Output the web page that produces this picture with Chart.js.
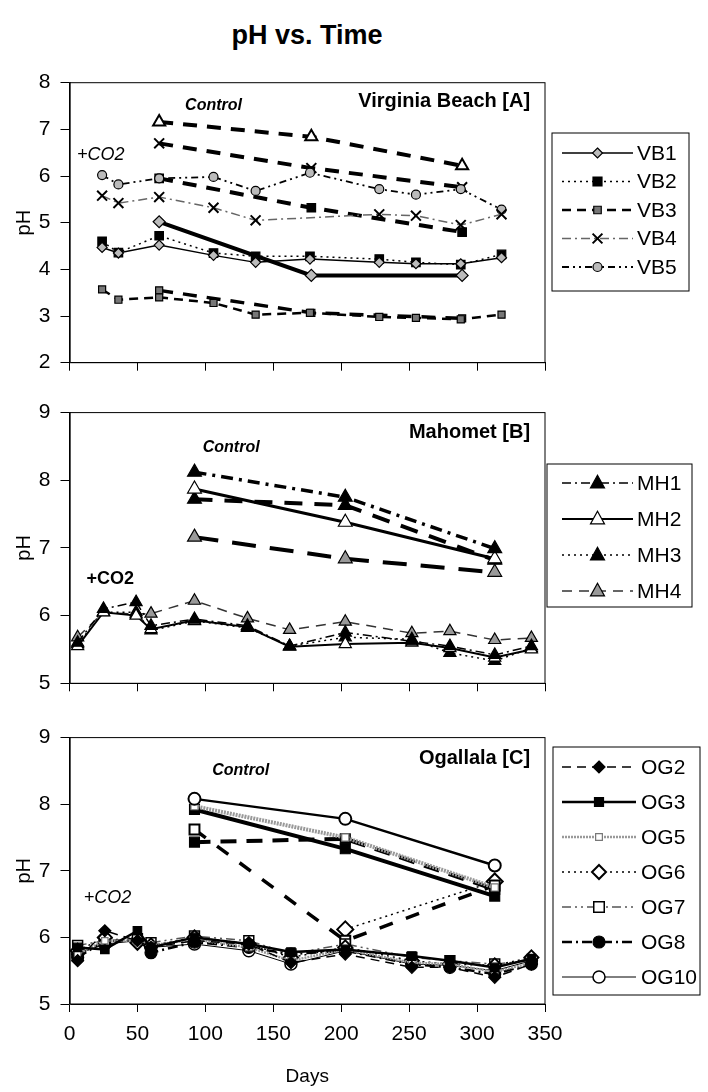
<!DOCTYPE html>
<html>
<head>
<meta charset="utf-8">
<script src="https://cdn.jsdelivr.net/npm/chart.js"></script>
<style>
  body { margin: 0; background: #fff; }
  #wrap { position: relative; width: 708px; height: 1092px; font-family: "Liberation Sans", Arial, sans-serif; }
  #titulo { position: absolute; left: 0; top: 20px; width: 614px; text-align: center; font-weight: bold; font-size: 27px; }
  canvas { position: absolute; left: 0; }
</style>
</head>
<body>
<div id="wrap">
  <div id="titulo">pH vs. Time</div>
  <canvas id="painelA" width="708" height="330" style="top:60px"></canvas>
  <canvas id="painelB" width="708" height="330" style="top:390px"></canvas>
  <canvas id="painelC" width="708" height="377" style="top:715px"></canvas>
</div>
<script>
// VIRGINIA BEACH [A]
const vbDias = [24, 36, 66, 106, 137, 177, 228, 255, 288, 318];
const vb1 = [4.47, 4.35, 4.52, 4.30, 4.15, 4.22, 4.15, 4.12, 4.12, 4.25];
const vb2 = [4.60, 4.36, 4.72, 4.35, 4.28, 4.28, 4.22, 4.15, 4.10, 4.32];
const vb3 = [3.57, 3.35, 3.40, 3.28, 3.03, 3.07, 2.98, 2.96, 2.93, 3.03];
const vb4 = [5.58, 5.42, 5.55, 5.32, 5.05, null, 5.18, 5.15, 4.95, 5.18];
const vb5 = [6.02, 5.82, 5.95, 5.98, 5.68, 6.07, 5.72, 5.60, 5.72, 5.28];
// controles de A
const vbDiasCtl = [66, 178, 289];
const vbCtlTri = [7.16, 6.84, 6.22];
const vbCtlX = [6.70, 6.17, 5.76];
const vbCtlQuad = [5.95, 5.32, 4.80];
const vbCtlLos = [5.02, 3.87, 3.87];
const vbCtlMais = [3.55, 3.07, 2.95];

// MAHOMET [B]
const mhDias = [6, 25, 49, 60, 92, 131, 162, 203, 252, 280, 313, 340];
const mh1 = [5.60, 6.10, 6.20, 5.85, 5.95, 5.85, 5.55, 5.75, 5.62, 5.55, 5.42, 5.55];
const mh2 = [5.55, 6.05, 6.00, 5.80, 5.93, 5.83, 5.54, 5.58, 5.60, 5.52, 5.38, 5.50];
const mh3 = [5.58, 6.05, 6.05, 5.78, 5.92, 5.82, 5.55, 5.68, 5.65, 5.45, 5.33, 5.52];
const mh4 = [5.68, 6.05, 6.02, 6.03, 6.22, 5.96, 5.79, 5.91, 5.74, 5.77, 5.64, 5.67];
const mhDiasCtl = [92, 203, 313];
const mh1Ctl = [8.12, 7.75, 6.99];
const mh2Ctl = [7.87, 7.38, 6.84];
const mh3Ctl = [7.72, 7.63, 6.82];
const mh4Ctl = [7.16, 6.84, 6.64];

// OGALLALA [C]
const ogDias = [6, 26, 50, 60, 92, 132, 163, 203, 252, 280, 313, 340];
const og2 = [5.65, 6.10, 5.95, 5.85, 5.95, 5.90, 5.62, 5.75, 5.55, 5.55, 5.40, 5.60];
const og3 = [5.85, 5.82, 6.10, 5.85, 6.00, 5.90, 5.78, 5.82, 5.72, 5.65, 5.55, 5.68];
const og5 = [5.75, 5.95, 5.95, 5.88, 5.97, 5.85, 5.65, 5.82, 5.62, 5.60, 5.48, 5.62];
const og6 = [5.80, 6.00, 5.92, 5.88, 6.00, 5.90, 5.70, 5.85, 5.65, 5.60, 5.58, 5.70];
const og7 = [5.88, 5.95, 5.98, 5.92, 6.02, 5.95, 5.75, 5.90, 5.70, 5.65, 5.60, 5.65];
const og8 = [5.70, 5.95, 5.95, 5.77, 5.93, 5.85, 5.75, 5.80, 5.60, 5.55, 5.45, 5.60];
const og10 = [5.75, 5.90, 5.95, 5.85, 5.90, 5.80, 5.60, 5.80, 5.60, 5.58, 5.50, 5.65];
const ogDiasCtl = [92, 203, 313];
const og10Ctl = [8.08, 7.78, 7.08];
const og5Ctl = [7.97, 7.50, 6.75];
const og3Ctl = [7.92, 7.33, 6.62];
const og8Ctl = [7.43, 7.48, 6.72];
const og7Ctl = [7.62, 5.95, 6.78];
const og6Ctl = [null, 6.12, 6.84];

const diasTicks = [0, 50, 100, 150, 200, 250, 300, 350];
const FONTE = '"Liberation Sans", Arial, sans-serif';

// junta dias e valores em pontos, pulando os vazios
const pontos = (dias, valores) => dias.map((d, i) => ({x: d, y: valores[i]})).filter(p => p.y !== null);

// cria um dataset com o estilo pedido
function serie(label, dias, valores, estilo, legenda) {
  return Object.assign({
    label: label,
    data: pontos(dias, valores),
    showLine: true,
    borderColor: '#000',
    backgroundColor: '#000',
    borderWidth: 1.5,
    borderDash: [],
    pointStyle: 'circle',
    pointRadius: 5,
    pointBackgroundColor: '#000',
    pointBorderColor: '#000',
    pointBorderWidth: 1.2,
    inLegend: legenda
  }, estilo);
}

// desenha um marcador simples na legenda
function marcador(ctx, ds, x, y) {
  const r = ds.pointRadius;
  ctx.save();
  ctx.setLineDash([]);
  ctx.fillStyle = ds.pointBackgroundColor;
  ctx.strokeStyle = ds.pointBorderColor;
  ctx.lineWidth = ds.pointBorderWidth;
  ctx.beginPath();
  switch (ds.pointStyle) {
    case 'rect': ctx.rect(x - r * 0.75, y - r * 0.75, r * 1.5, r * 1.5); break;
    case 'rectRot':
      ctx.moveTo(x, y - r); ctx.lineTo(x + r, y); ctx.lineTo(x, y + r); ctx.lineTo(x - r, y); ctx.closePath(); break;
    case 'triangle':
      ctx.moveTo(x, y - r * 1.1); ctx.lineTo(x + r, y + r * 0.7); ctx.lineTo(x - r, y + r * 0.7); ctx.closePath(); break;
    case 'crossRot':
      ctx.moveTo(x - r * 0.7, y - r * 0.7); ctx.lineTo(x + r * 0.7, y + r * 0.7);
      ctx.moveTo(x + r * 0.7, y - r * 0.7); ctx.lineTo(x - r * 0.7, y + r * 0.7);
      ctx.stroke(); ctx.restore(); return;
    default: ctx.arc(x, y, r, 0, Math.PI * 2);
  }
  ctx.fill();
  ctx.stroke();
  ctx.restore();
}

const decoracao = {
  id: 'deco',
  afterDraw(chart, args, opts) {
    const ctx = chart.ctx;
    const a = chart.chartArea;
    const xs = chart.scales.x, ys = chart.scales.y;
    ctx.save();
    ctx.strokeStyle = '#000';
    ctx.lineWidth = 1;
    ctx.strokeRect(a.left, a.top, a.width, a.height);
    // textos dentro do grafico
    ctx.fillStyle = '#000';
    ctx.textBaseline = 'middle';
    opts.notas.forEach(n => {
      ctx.font = n.fonte;
      ctx.textAlign = n.alinha;
      ctx.fillText(n.texto, xs.getPixelForValue(n.dia), ys.getPixelForValue(n.ph));
    });
    // legenda
    const L = opts.caixa;
    ctx.fillStyle = '#fff';
    ctx.fillRect(L.x, L.y, L.w, L.h);
    ctx.strokeStyle = '#000';
    ctx.lineWidth = 1;
    ctx.strokeRect(L.x, L.y, L.w, L.h);
    chart.data.datasets.filter(d => d.inLegend).forEach((d, i) => {
      const y = L.y + L.primeira + i * L.passo;
      ctx.save();
      ctx.strokeStyle = d.borderColor;
      ctx.lineWidth = d.borderWidth;
      ctx.setLineDash(d.borderDash);
      ctx.beginPath();
      ctx.moveTo(L.linha0, y);
      ctx.lineTo(L.linha1, y);
      ctx.stroke();
      ctx.restore();
      marcador(ctx, d, (L.linha0 + L.linha1) / 2, y);
      ctx.fillStyle = '#000';
      ctx.font = '21px ' + FONTE;
      ctx.textAlign = 'left';
      ctx.fillText(d.label, L.texto, y + 1);
    });
    ctx.restore();
  }
};

function desenharPainel(id, datasets, yMin, yMax, alturaX, topo, mostrarDias, notas, caixa) {
  return new Chart(document.getElementById(id), {
    type: 'scatter',
    data: { datasets: datasets },
    plugins: [decoracao],
    options: {
      responsive: false,
      animation: false,
      layout: { padding: { left: 12, right: 163, top: topo, bottom: 0 } },
      plugins: {
        legend: { display: false },
        tooltip: { enabled: false },
        deco: { notas: notas, caixa: caixa }
      },
      scales: {
        x: {
          type: 'linear', min: 0, max: 350,
          afterBuildTicks: s => { s.ticks = diasTicks.map(v => ({value: v})); },
          afterFit: s => { s.height = alturaX; },
          grid: { drawOnChartArea: false, drawTicks: true, tickLength: 8, color: '#000' },
          border: { display: true, color: '#000', width: 1 },
          ticks: { display: mostrarDias, color: '#000', padding: 10, font: { family: FONTE, size: 21 }, maxRotation: 0 },
          title: { display: mostrarDias, text: 'Days', color: '#000', font: { family: FONTE, size: 19 }, padding: { top: 4, bottom: 4 } }
        },
        y: {
          min: yMin, max: yMax,
          ticks: { stepSize: 1, color: '#000', padding: 10, font: { family: FONTE, size: 21 } },
          afterFit: s => { s.width = 57.5; },
          grid: { drawOnChartArea: false, drawTicks: true, tickLength: 9, color: '#000' },
          border: { display: true, color: '#555', width: 2 },
          title: { display: true, text: 'pH', color: '#000', font: { family: FONTE, size: 20 }, padding: 0 }
        }
      }
    }
  });
}

const italico = 'italic bold 16px ' + FONTE;
const italicoCO2 = 'italic 18px ' + FONTE;
const negrito = 'bold 20px ' + FONTE;

// PAINEL A
const grossoTracejado = [14, 10];
desenharPainel('painelA', [
  serie('VB1', vbDias, vb1, { pointStyle: 'rectRot', pointRadius: 5, pointBackgroundColor: '#bbb' }, true),
  serie('VB2', vbDias, vb2, { borderDash: [2, 4], pointStyle: 'rect', pointRadius: 6 }, true),
  serie('VB3', vbDias, vb3, { borderWidth: 2.5, borderDash: [9, 6], pointStyle: 'rect', pointRadius: 5, pointBackgroundColor: '#777' }, true),
  serie('VB4', vbDias, vb4, { borderColor: '#666', borderDash: [9, 4, 2, 4], pointStyle: 'crossRot', pointRadius: 7, pointBorderColor: '#000', pointBorderWidth: 2 }, true),
  serie('VB5', vbDias, vb5, { borderWidth: 1.8, borderDash: [7, 4, 2, 4, 2, 4], pointStyle: 'circle', pointRadius: 4.5, pointBackgroundColor: '#bbb' }, true),
  serie('VB ctl 1', vbDiasCtl, vbCtlTri, { borderWidth: 4, borderDash: grossoTracejado, pointStyle: 'triangle', pointRadius: 7, pointBackgroundColor: '#fff', pointBorderWidth: 2 }, false),
  serie('VB ctl 2', vbDiasCtl, vbCtlX, { borderWidth: 4, borderDash: grossoTracejado, pointStyle: 'crossRot', pointRadius: 7, pointBorderWidth: 2 }, false),
  serie('VB ctl 3', vbDiasCtl, vbCtlQuad, { borderWidth: 4, borderDash: grossoTracejado, pointStyle: 'rect', pointRadius: 6 }, false),
  serie('VB ctl 4', vbDiasCtl, vbCtlLos, { borderWidth: 4, pointStyle: 'rectRot', pointRadius: 6, pointBackgroundColor: '#bbb' }, false),
  serie('VB ctl 5', vbDiasCtl, vbCtlMais, { borderWidth: 3.5, borderDash: grossoTracejado, pointStyle: 'rect', pointRadius: 5, pointBackgroundColor: '#777' }, false)
], 2, 8, 27.3, 22.7, false, [
  { texto: 'Control', dia: 106, ph: 7.52, fonte: italico, alinha: 'center' },
  { texto: '+CO2', dia: 23, ph: 6.45, fonte: italicoCO2, alinha: 'center' },
  { texto: 'Virginia Beach [A]', dia: 339, ph: 7.59, fonte: negrito, alinha: 'right' }
], { x: 552, y: 73, w: 137, h: 158, primeira: 20, passo: 28.5, linha0: 562, linha1: 633, texto: 637 });

// PAINEL B
desenharPainel('painelB', [
  serie('MH1', mhDias, mh1, { borderDash: [9, 4, 2, 4], pointStyle: 'triangle', pointRadius: 7 }, true),
  serie('MH2', mhDias, mh2, { borderWidth: 2, pointStyle: 'triangle', pointRadius: 7, pointBackgroundColor: '#fff' }, true),
  serie('MH3', mhDias, mh3, { borderDash: [2, 4], pointStyle: 'triangle', pointRadius: 7 }, true),
  serie('MH4', mhDias, mh4, { borderColor: '#333', borderDash: [10, 7], pointStyle: 'triangle', pointRadius: 7, pointBackgroundColor: '#999' }, true),
  serie('MH1 ctl', mhDiasCtl, mh1Ctl, { borderWidth: 3.5, borderDash: [12, 6, 3, 6], pointStyle: 'triangle', pointRadius: 8 }, false),
  serie('MH2 ctl', mhDiasCtl, mh2Ctl, { borderWidth: 3, pointStyle: 'triangle', pointRadius: 8, pointBackgroundColor: '#fff' }, false),
  serie('MH3 ctl', mhDiasCtl, mh3Ctl, { borderWidth: 4, borderDash: [18, 12], pointStyle: 'triangle', pointRadius: 8 }, false),
  serie('MH4 ctl', mhDiasCtl, mh4Ctl, { borderWidth: 4, borderDash: [24, 14], pointStyle: 'triangle', pointRadius: 8, pointBackgroundColor: '#999' }, false)
], 5, 9, 36.7, 21.7, false, [
  { texto: 'Control', dia: 119, ph: 8.48, fonte: italico, alinha: 'center' },
  { texto: '+CO2', dia: 30, ph: 6.54, fonte: 'bold 18px ' + FONTE, alinha: 'center' },
  { texto: 'Mahomet [B]', dia: 339, ph: 8.71, fonte: negrito, alinha: 'right' }
], { x: 547, y: 74, w: 145, h: 143, primeira: 19, passo: 36, linha0: 562, linha1: 633, texto: 637 });

// PAINEL C
desenharPainel('painelC', [
  serie('OG2', ogDias, og2, { borderDash: [9, 6], pointStyle: 'rectRot', pointRadius: 6 }, true),
  serie('OG3', ogDias, og3, { borderWidth: 2.5, pointStyle: 'rect', pointRadius: 6 }, true),
  serie('OG5', ogDias, og5, { borderColor: '#999', borderWidth: 2.5, borderDash: [2, 1], pointStyle: 'rect', pointRadius: 4.5, pointBackgroundColor: '#fff', pointBorderColor: '#777' }, true),
  serie('OG6', ogDias, og6, { borderDash: [2, 4], pointStyle: 'rectRot', pointRadius: 7, pointBackgroundColor: '#fff', pointBorderWidth: 2 }, true),
  serie('OG7', ogDias, og7, { borderColor: '#555', borderDash: [9, 4, 2, 4, 2, 4], pointStyle: 'rect', pointRadius: 7, pointBackgroundColor: '#fff', pointBorderWidth: 1.5 }, true),
  serie('OG8', ogDias, og8, { borderWidth: 2.5, borderDash: [10, 4, 2, 4], pointStyle: 'circle', pointRadius: 6 }, true),
  serie('OG10', ogDias, og10, { borderWidth: 1, pointStyle: 'circle', pointRadius: 6, pointBackgroundColor: '#fff', pointBorderWidth: 1.5 }, true),
  serie('OG10 ctl', ogDiasCtl, og10Ctl, { borderWidth: 2.5, pointStyle: 'circle', pointRadius: 6, pointBackgroundColor: '#fff', pointBorderWidth: 2 }, false),
  serie('OG5 ctl', ogDiasCtl, og5Ctl, { borderColor: '#999', borderWidth: 4, borderDash: [2, 1], pointStyle: 'rect', pointRadius: 5, pointBackgroundColor: '#fff', pointBorderColor: '#777' }, false),
  serie('OG3 ctl', ogDiasCtl, og3Ctl, { borderWidth: 4, pointStyle: 'rect', pointRadius: 7 }, false),
  serie('OG8 ctl', ogDiasCtl, og8Ctl, { borderWidth: 4, borderDash: [16, 10], pointStyle: 'rect', pointRadius: 7 }, false),
  serie('OG7 ctl', ogDiasCtl, og7Ctl, { borderWidth: 3.5, borderDash: [14, 14], pointStyle: 'rect', pointRadius: 7, pointBackgroundColor: '#fff', pointBorderWidth: 2 }, false),
  serie('OG6 ctl', ogDiasCtl, og6Ctl, { borderDash: [2, 4], pointStyle: 'rectRot', pointRadius: 8, pointBackgroundColor: '#fff', pointBorderWidth: 2 }, false)
], 5, 9, 88, 19, true, [
  { texto: 'Control', dia: 126, ph: 8.5, fonte: italico, alinha: 'center' },
  { texto: '+CO2', dia: 28, ph: 6.59, fonte: italicoCO2, alinha: 'center' },
  { texto: 'Ogallala [C]', dia: 339, ph: 8.69, fonte: negrito, alinha: 'right' }
], { x: 553, y: 32, w: 147, h: 248, primeira: 20, passo: 35, linha0: 562, linha1: 636, texto: 641 });
</script>
</body>
</html>
